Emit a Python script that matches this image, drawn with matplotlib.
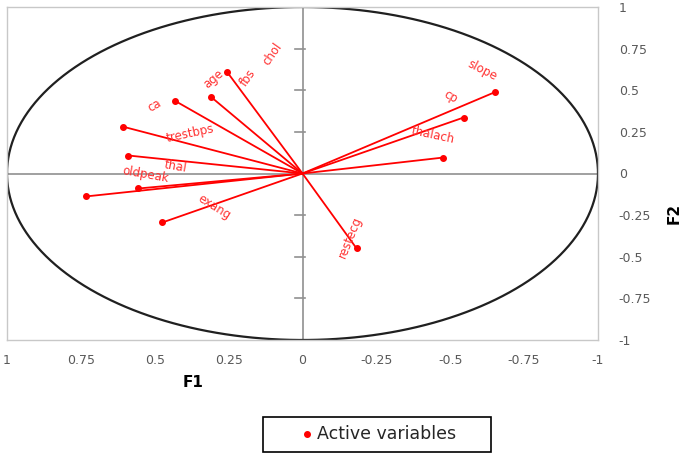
import numpy as np
import matplotlib
matplotlib.use("Agg")
import matplotlib.pyplot as plt
from matplotlib.lines import Line2D
from matplotlib.patches import Rectangle

# correlations of the active variables with F1 / F2
names = ["slope", "cp", "thalach", "restecg", "chol", "age", "ca",
         "trestbps", "thal", "oldpeak", "", "exang"]
f1 = [-0.653, -0.545, -0.477, -0.183, 0.254, 0.311, 0.433,
      0.609, 0.589, 0.555, 0.734, 0.474]
f2 = [0.49, 0.336, 0.096, -0.45, 0.607, 0.462, 0.438,
      0.282, 0.108, -0.09, -0.138, -0.294]

# label placement (data coords, rotation)
labels = [("slope", -0.61, 0.62, -27), ("cp", -0.50, 0.46, -30),
          ("thalach", -0.44, 0.23, -12), ("restecg", -0.16, -0.38, 68),
          ("age", 0.30, 0.57, 40), ("fbs", 0.185, 0.575, 55),
          ("chol", 0.10, 0.72, 55), ("ca", 0.50, 0.41, 30),
          ("trestbps", 0.38, 0.24, 12), ("thal", 0.43, 0.04, -10),
          ("oldpeak", 0.53, -0.01, -10), ("exang", 0.30, -0.20, -32)]

ticks = [1, 0.75, 0.5, 0.25, 0, -0.25, -0.5, -0.75, -1]
tick_txt = ["1", "0.75", "0.5", "0.25", "0", "-0.25", "-0.5", "-0.75", "-1"]

plt.rcParams['font.family'] = ['DejaVu Sans']

W, H = 685, 454
fig = plt.figure(figsize=(W / 100, H / 100), dpi=100)
ax = fig.add_axes([7 / W, 1 - 340 / H, 591 / W, 333 / H])
ax.set_xlim(1, -1)
ax.set_ylim(-1, 1)

for s in ax.spines.values():
    s.set_color("#c8c8c8")
    s.set_linewidth(1)

# axes through origin
ax.axhline(0, color="#909090", lw=1.2, zorder=1)
ax.axvline(0, color="#909090", lw=1.2, zorder=1)
for t in ticks:
    if t not in (1, -1, 0):
        ax.plot([-0.008, 0.024], [t, t], color="#909090", lw=1.2, zorder=1)

# circle
th = np.linspace(0, 2 * np.pi, 400)
ax.plot(np.cos(th), np.sin(th), color="#202020", lw=1.6, zorder=2)

for x, y in zip(f1, f2):
    ax.plot([0, x], [0, y], color="#ff0000", lw=1.3, zorder=3)
ax.plot(f1, f2, "o", color="#ff0000", ms=4, zorder=4)

for txt, x, y, r in labels:
    ax.text(x, y, txt, color="#ff3030", fontsize=8.5, rotation=r,
            ha="center", va="center", rotation_mode="anchor", zorder=5)

ax.set_xticks(ticks)
ax.set_xticklabels(tick_txt)
ax.set_yticks(ticks)
ax.set_yticklabels(tick_txt)
ax.yaxis.tick_right()
ax.tick_params(axis="both", length=0, labelsize=9, labelcolor="#595959")
ax.tick_params(axis="x", pad=10)
ax.tick_params(axis="y", pad=15)
for lab in ax.get_yticklabels():
    lab.set_horizontalalignment("left")

ax.set_xlabel("F1", fontsize=11, fontweight="bold")
ax.xaxis.set_label_coords((193 - 7) / 591, -0.105)
fig.text(674 / W, 1 - 213 / H, "F2", fontsize=11, fontweight="bold",
         rotation=90, ha="center", va="center")

# legend box
fig.patches.append(Rectangle((263 / W, 1 - 452 / H), 228 / W, 35 / H,
                             transform=fig.transFigure, fill=False,
                             edgecolor="black", lw=1.2))
fig.lines.append(Line2D([307 / W], [1 - 434 / H], marker="o", ls="none",
                        color="#ff0000", ms=4, transform=fig.transFigure))
fig.text(317 / W, 1 - 434 / H, "Active variables", fontsize=12.5,
         color="#262626", ha="left", va="center")

fig.savefig("out.png", dpi=100)
